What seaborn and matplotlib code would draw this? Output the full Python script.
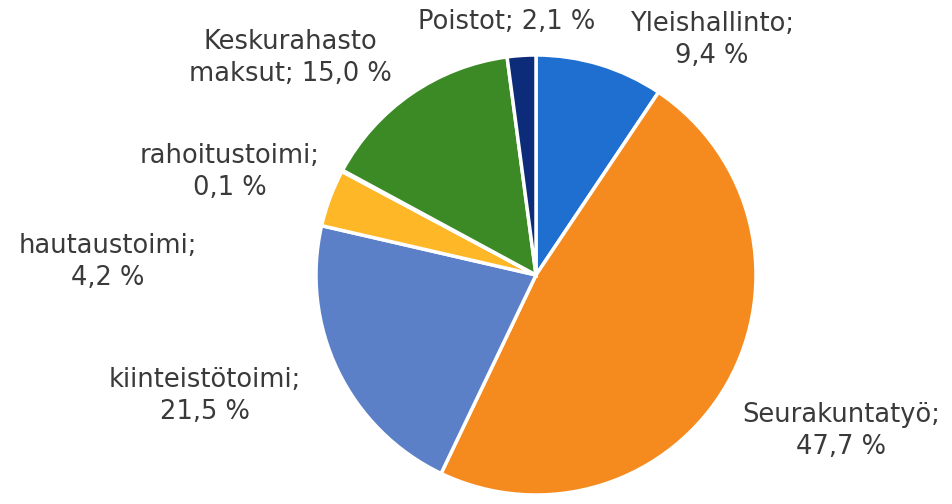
import matplotlib
matplotlib.use("Agg")
import matplotlib.pyplot as plt
import seaborn as sns

sns.set_theme(style="white")
plt.rcParams['font.family'] = ['DejaVu Sans']

# slices, clockwise from the top
categories = ['Yleishallinto', 'Seurakuntatyö', 'kiinteistötoimi', 'hautaustoimi',
              'rahoitustoimi', 'Keskurahasto maksut', 'Poistot']
shares = [9.4, 47.7, 21.5, 4.2, 0.1, 15.0, 2.1]
label_texts = ['Yleishallinto;\n9,4 %', 'Seurakuntatyö;\n47,7 %', 'kiinteistötoimi;\n21,5 %',
               'hautaustoimi;\n4,2 %', 'rahoitustoimi;\n0,1 %', 'Keskurahasto\nmaksut; 15,0 %',
               'Poistot; 2,1 %']

colors = sns.color_palette(['#1f6fd0', '#f58a1f', '#5b80c8', '#fdb727',
                            '#9a9a9a', '#3b8a26', '#0c2b78'])

# label anchor positions in pixels (x from left, y from top)
label_x = [712, 841, 205, 108, 230, 290, 507]
label_y = [40, 431, 396, 262, 172, 58, 22]

W, H = 952, 504
fig = plt.figure(figsize=(W / 100, H / 100), dpi=100)
ax = fig.add_axes([0, 0, 1, 1])

ax.pie(shares, colors=colors, startangle=90, counterclock=False,
       center=(536, H - 275), radius=220,
       wedgeprops={'edgecolor': 'white', 'linewidth': 2.5})

for txt, x, y in zip(label_texts, label_x, label_y):
    ax.text(x, H - y, txt, ha='center', va='center', fontsize=18.5,
            color='#3a3a3a', linespacing=1.3)

ax.set_xlim(0, W)
ax.set_ylim(0, H)
ax.set_aspect('equal')
ax.axis('off')

fig.savefig('out.png', dpi=100, facecolor='white')
